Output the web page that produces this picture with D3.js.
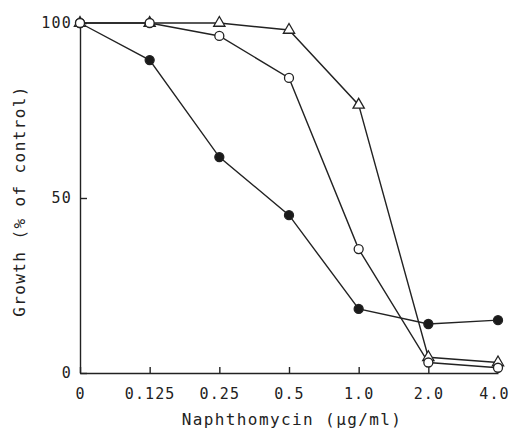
<!DOCTYPE html>
<html>
<head>
<meta charset="utf-8">
<script src="https://cdn.jsdelivr.net/npm/d3@7"></script>
<style>
  body { margin: 0; background: #fff; }
  text { font-family: "DejaVu Sans Mono", monospace; fill: #222; }
</style>
</head>
<body>
<div id="chart"></div>
<script>
const doses = ["0", "0.125", "0.25", "0.5", "1.0", "2.0", "4.0"];
const yTicks = [0, 50, 100];

// growth, % of control
const filledCircles = [100, 89.4, 61.7, 45.1, 18.3, 14, 15.1];
const openCircles = [100, 100, 96.3, 84.3, 35.4, 3, 1.5];
const openTriangles = [100, 100, 100, 98, 76.6, 4.5, 3];

// drawing order: the open circles sit on top where points coincide
const series = [
  { name: "filled", values: filledCircles, shape: "circle", fill: "#1a1a1a" },
  { name: "triangle", values: openTriangles, shape: "triangle", fill: "#fff" },
  { name: "open", values: openCircles, shape: "circle", fill: "#fff" }
];

const width = 512, height = 439;
const ink = "#222";

const svg = d3.select("#chart").append("svg")
    .attr("width", width)
    .attr("height", height);

const x = d3.scalePoint()
    .domain(doses)
    .range([80, 498]);

const y = d3.scaleLinear()
    .domain([0, 100])
    .range([373, 23]);

// x axis, ticks point up into the plot
const xAxis = svg.append("g")
    .attr("transform", `translate(0, ${y(0)})`)
    .call(d3.axisBottom(x).tickSizeInner(-6).tickSizeOuter(0).tickPadding(15));
xAxis.selectAll("text")
    .style("font-size", "15px")
    .style("letter-spacing", "1.1px");
// last label sits against the right edge, as in the original
xAxis.selectAll("text")
    .filter(d => d === "4.0")
    .attr("dx", -4);

// y axis, ticks point right
const yAxis = svg.append("g")
    .attr("transform", `translate(${x("0")}, 0)`)
    .call(d3.axisLeft(y).tickValues(yTicks).tickSizeInner(-7).tickSizeOuter(0).tickPadding(8));
yAxis.selectAll("text")
    .style("font-size", "15px")
    .style("letter-spacing", "1.2px");

svg.selectAll(".domain, .tick line")
    .attr("stroke", ink)
    .attr("stroke-width", 1.4);

// axis titles
svg.append("text")
    .attr("x", 292)
    .attr("y", 425)
    .attr("text-anchor", "middle")
    .style("font-size", "16px")
    .style("letter-spacing", "1.4px")
    .text("Naphthomycin (μg/ml)");

svg.append("text")
    .attr("transform", "translate(25, 201) rotate(-90)")
    .attr("text-anchor", "middle")
    .style("font-size", "16px")
    .style("letter-spacing", "1.4px")
    .text("Growth (% of control)");

const line = d3.line()
    .x((d, i) => x(doses[i]))
    .y(d => y(d));

// lines first, markers on top
series.forEach(s => {
    svg.append("path")
        .datum(s.values)
        .attr("d", line)
        .attr("fill", "none")
        .attr("stroke", ink)
        .attr("stroke-width", 1.4);
});

const triangle = d3.symbol().type(d3.symbolTriangle).size(55);

series.forEach(s => {
    const g = svg.append("g");
    if (s.shape === "circle") {
        g.selectAll("circle")
            .data(s.values)
            .enter().append("circle")
            .attr("cx", (d, i) => x(doses[i]))
            .attr("cy", d => y(d))
            .attr("r", 4.5)
            .attr("fill", s.fill)
            .attr("stroke", ink)
            .attr("stroke-width", 1.3);
    } else {
        g.selectAll("path")
            .data(s.values)
            .enter().append("path")
            .attr("d", triangle)
            .attr("transform", (d, i) => `translate(${x(doses[i])}, ${y(d)})`)
            .attr("fill", s.fill)
            .attr("stroke", ink)
            .attr("stroke-width", 1.3);
    }
});
</script>
</body>
</html>
